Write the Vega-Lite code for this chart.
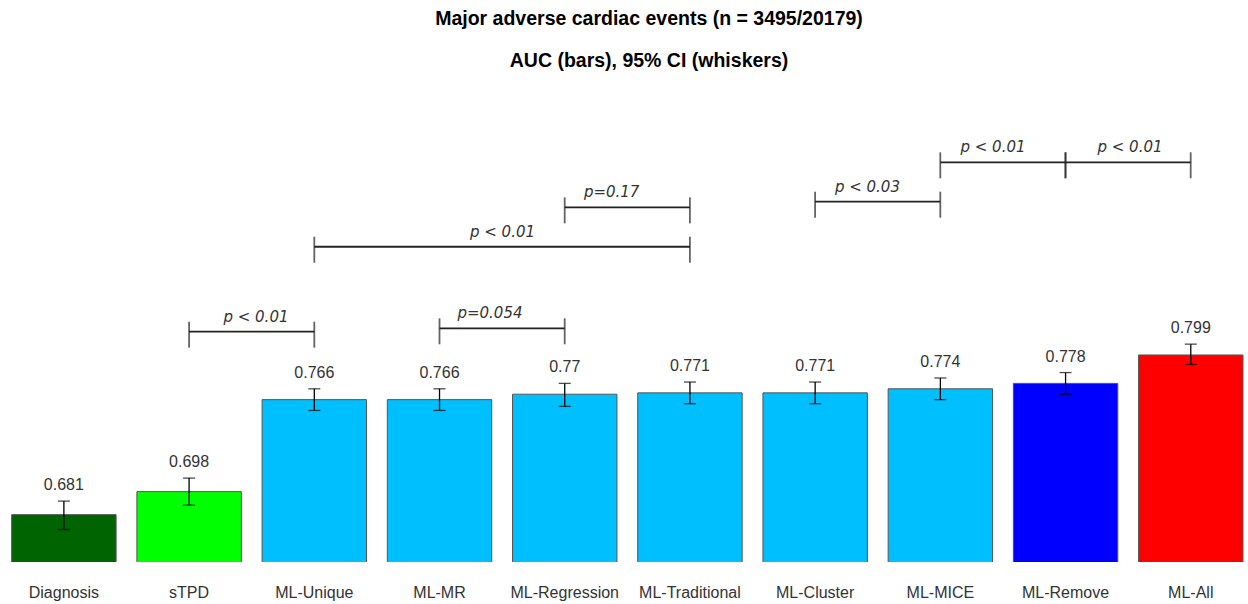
{
  "$schema": "https://vega.github.io/schema/vega-lite/v6.json",
  "autosize": "none",
  "width": 1248,
  "height": 479,
  "padding": {"top": 83, "bottom": 42, "left": 0, "right": 0},
  "background": "white",
  "title": {
    "text": "Major adverse cardiac events (n = 3495/20179)",
    "subtitle": "AUC (bars), 95% CI (whiskers)",
    "font": "Liberation Sans",
    "fontSize": 19.5,
    "fontWeight": "bold",
    "color": "black",
    "subtitleFont": "Liberation Sans",
    "subtitleFontSize": 19.5,
    "subtitleFontWeight": "bold",
    "subtitleColor": "black",
    "subtitlePadding": 22,
    "offset": 12,
    "dx": 25,
    "anchor": "middle",
    "frame": "group"
  },
  "config": {"view": {"stroke": null}},
  "datasets": {
    "bars": [
      {"cat": "Diagnosis", "auc": 0.681, "lo": 0.670, "hi": 0.691, "lab": "0.681"},
      {"cat": "sTPD", "auc": 0.698, "lo": 0.688, "hi": 0.708, "lab": "0.698"},
      {"cat": "ML-Unique", "auc": 0.766, "lo": 0.758, "hi": 0.774, "lab": "0.766"},
      {"cat": "ML-MR", "auc": 0.766, "lo": 0.758, "hi": 0.774, "lab": "0.766"},
      {"cat": "ML-Regression", "auc": 0.770, "lo": 0.761, "hi": 0.778, "lab": "0.77"},
      {"cat": "ML-Traditional", "auc": 0.771, "lo": 0.763, "hi": 0.779, "lab": "0.771"},
      {"cat": "ML-Cluster", "auc": 0.771, "lo": 0.763, "hi": 0.779, "lab": "0.771"},
      {"cat": "ML-MICE", "auc": 0.774, "lo": 0.766, "hi": 0.782, "lab": "0.774"},
      {"cat": "ML-Remove", "auc": 0.778, "lo": 0.770, "hi": 0.786, "lab": "0.778"},
      {"cat": "ML-All", "auc": 0.799, "lo": 0.792, "hi": 0.807, "lab": "0.799"}
    ],
    "brackets": [
      {"from": 1, "to": 2, "ly": 0.8162, "lpos": 1.534, "p": "p < 0.01"},
      {"from": 3, "to": 4, "ly": 0.8187, "lpos": 3.403, "p": "p=0.054"},
      {"from": 2, "to": 5, "ly": 0.8790, "lpos": 3.503, "p": "p < 0.01"},
      {"from": 4, "to": 5, "ly": 0.9081, "lpos": 4.375, "p": "p=0.17"},
      {"from": 6, "to": 7, "ly": 0.9123, "lpos": 6.418, "p": "p < 0.03"},
      {"from": 7, "to": 8, "ly": 0.9414, "lpos": 7.421, "p": "p < 0.01"},
      {"from": 8, "to": 9, "ly": 0.9414, "lpos": 8.515, "p": "p < 0.01"}
    ]
  },
  "layer": [
    {
      "data": {"name": "bars"},
      "encoding": {
        "x": {
          "field": "cat", "type": "nominal", "sort": null,
          "scale": {"paddingInner": 0.166, "paddingOuter": 0.0666, "align": 0.7},
          "axis": {"title": null, "labelAngle": 0, "ticks": false, "tickSize": 0, "domain": false, "grid": false,
                   "labelFont": "Liberation Sans", "labelFontSize": 16, "labelColor": "#333", "labelPadding": 22}
        }
      },
      "layer": [
        {
          "mark": {"type": "bar", "stroke": "#555", "strokeWidth": 1, "clip": true},
          "encoding": {
            "y": {"field": "auc", "type": "quantitative", "scale": {"domain": [0.646, 1.0], "zero": false, "nice": false}, "axis": null},
            "color": {
              "field": "cat", "type": "nominal", "legend": null,
              "scale": {
                "domain": ["Diagnosis", "sTPD", "ML-Unique", "ML-MR", "ML-Regression", "ML-Traditional", "ML-Cluster", "ML-MICE", "ML-Remove", "ML-All"],
                "range": ["#006400", "#00ff00", "#00bfff", "#00bfff", "#00bfff", "#00bfff", "#00bfff", "#00bfff", "#0000ff", "#ff0000"]
              }
            }
          }
        },
        {
          "mark": {"type": "rule", "color": "black", "strokeWidth": 1.3},
          "encoding": {
            "y": {"field": "lo", "type": "quantitative", "scale": {"domain": [0.646, 1.0], "zero": false, "nice": false}, "axis": null},
            "y2": {"field": "hi"}
          }
        },
        {
          "mark": {"type": "tick", "orient": "horizontal", "size": 12, "thickness": 1.3, "color": "black"},
          "encoding": {
            "y": {"field": "lo", "type": "quantitative", "scale": {"domain": [0.646, 1.0], "zero": false, "nice": false}, "axis": null}
          }
        },
        {
          "mark": {"type": "tick", "orient": "horizontal", "size": 12, "thickness": 1.3, "color": "black"},
          "encoding": {
            "y": {"field": "hi", "type": "quantitative", "scale": {"domain": [0.646, 1.0], "zero": false, "nice": false}, "axis": null}
          }
        },
        {
          "mark": {"type": "text", "font": "Liberation Sans", "fontSize": 16, "color": "#333", "baseline": "middle", "dy": -16},
          "encoding": {
            "y": {"field": "hi", "type": "quantitative", "scale": {"domain": [0.646, 1.0], "zero": false, "nice": false}, "axis": null},
            "text": {"field": "lab"}
          }
        }
      ]
    },
    {
      "data": {"name": "brackets"},
      "layer": [
        {
          "mark": {"type": "rule", "color": "#222", "strokeWidth": 1.8},
          "encoding": {
            "x": {"field": "from", "type": "quantitative", "scale": {"domain": [-0.5104, 9.4577], "nice": false, "zero": false}, "axis": null},
            "x2": {"field": "to"},
            "y": {"field": "ly", "type": "quantitative", "scale": {"domain": [0.646, 1.0], "zero": false, "nice": false}, "axis": null}
          }
        },
        {
          "mark": {"type": "tick", "orient": "vertical", "size": 26, "thickness": 1.8, "yOffset": 3, "color": "#222"},
          "encoding": {
            "x": {"field": "from", "type": "quantitative", "scale": {"domain": [-0.5104, 9.4577], "nice": false, "zero": false}, "axis": null},
            "y": {"field": "ly", "type": "quantitative", "scale": {"domain": [0.646, 1.0], "zero": false, "nice": false}, "axis": null}
          }
        },
        {
          "mark": {"type": "tick", "orient": "vertical", "size": 26, "thickness": 1.8, "yOffset": 3, "color": "#222"},
          "encoding": {
            "x": {"field": "to", "type": "quantitative", "scale": {"domain": [-0.5104, 9.4577], "nice": false, "zero": false}, "axis": null},
            "y": {"field": "ly", "type": "quantitative", "scale": {"domain": [0.646, 1.0], "zero": false, "nice": false}, "axis": null}
          }
        },
        {
          "mark": {"type": "text", "font": "DejaVu Sans", "fontStyle": "italic", "fontSize": 15, "color": "#333", "baseline": "middle", "dy": -15},
          "encoding": {
            "x": {"field": "lpos", "type": "quantitative", "scale": {"domain": [-0.5104, 9.4577], "nice": false, "zero": false}, "axis": null},
            "y": {"field": "ly", "type": "quantitative", "scale": {"domain": [0.646, 1.0], "zero": false, "nice": false}, "axis": null},
            "text": {"field": "p"}
          }
        }
      ]
    }
  ],
  "resolve": {"scale": {"x": "independent"}, "axis": {"x": "independent"}}
}
